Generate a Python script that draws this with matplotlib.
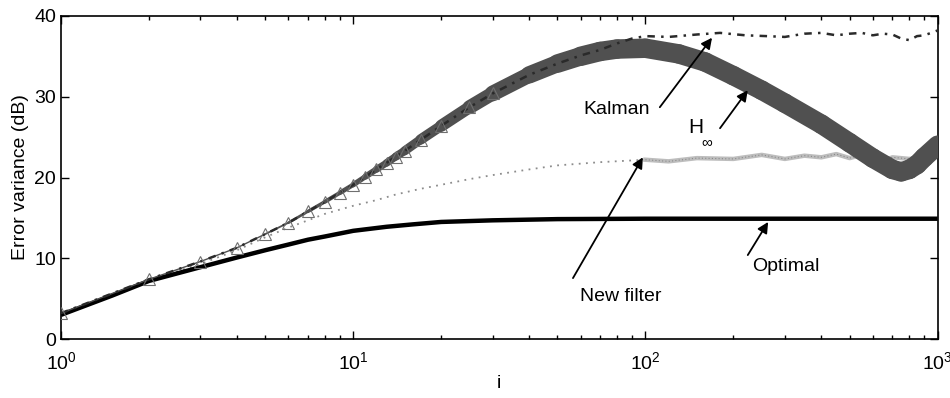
import numpy as np
import matplotlib
matplotlib.use('Agg')
import matplotlib.pyplot as plt
from matplotlib.collections import LineCollection

plt.rcParams['font.family'] = ['Liberation Sans', 'DejaVu Sans']
plt.rcParams['mathtext.default'] = 'regular'

# H-infinity filter (grey triangles -> dense band)
hinf_i = [1, 2, 3, 4, 5, 6, 7, 8, 9, 10, 11, 12, 13, 14, 15, 17, 20, 25, 30, 40, 50, 60, 70, 80,
          100, 130, 160, 200, 250, 300, 400, 500, 600, 700, 750, 800, 850, 900, 1000]
hinf_db = [3.2, 7.4, 9.6, 11.3, 13.0, 14.4, 15.8, 17.0, 18.1, 19.1, 20.1, 21.0, 21.8, 22.6, 23.3, 24.7,
           26.4, 28.7, 30.4, 32.7, 34.1, 35.0, 35.6, 35.9,
           36.0, 35.3, 34.3, 32.6, 30.8, 29.2, 26.6, 24.3, 22.4, 21.0, 20.7, 21.0, 21.6, 22.5, 24.0]

# Kalman filter (dash-dot)
kal_i = [1, 2, 3, 4, 5, 6, 7, 8, 10, 12, 15, 20, 25, 30, 40, 50, 60, 70, 80, 90, 100, 120, 150, 180,
         220, 260, 300, 350, 400, 450, 500, 550, 600, 650, 700, 750, 800, 850, 900, 950, 1000]
kal_db = [3.2, 7.4, 9.6, 11.3, 13.0, 14.4, 15.8, 17.0, 19.1, 21.0, 23.3, 26.4, 28.7, 30.4, 32.7, 34.1,
          35.1, 35.8, 36.6, 37.2, 37.5, 37.4, 37.7, 37.9, 37.6, 37.5, 37.4, 37.8, 37.9, 37.6, 37.8,
          37.9, 37.6, 37.8, 37.7, 37.2, 37.0, 37.5, 37.6, 37.9, 38.2]

# New filter (light grey)
new_i = [1, 2, 3, 4, 5, 6, 7, 8, 10, 12, 14, 17, 20, 25, 30, 40, 50, 70, 100, 120, 150, 200, 250,
         300, 350, 400, 450, 500, 550, 600, 650, 700, 800, 900, 1000]
new_db = [3.1, 7.3, 9.3, 11.0, 12.6, 13.8, 14.7, 15.5, 16.5, 17.2, 17.9, 18.6, 19.1, 19.8, 20.3, 21.0,
          21.5, 21.9, 22.2, 22.0, 22.4, 22.3, 22.8, 22.3, 22.7, 22.5, 22.9, 22.4, 22.8, 22.3, 22.0,
          22.5, 22.3, 22.6, 22.8]

# Optimal (thick black)
opt_i = [1, 1.5, 2, 3, 4, 5, 6, 7, 8, 10, 13, 16, 20, 30, 50, 100, 1000]
opt_db = [3.0, 5.4, 7.2, 8.9, 10.1, 11.0, 11.7, 12.3, 12.7, 13.4, 13.9, 14.2, 14.5, 14.7, 14.85, 14.9, 14.9]

fig = plt.figure(figsize=(9.5, 3.98), dpi=100)
ax = fig.add_axes([0.0642, 0.148, 0.9228, 0.812])
ax.set_xscale('log')

# optimal
ax.plot(opt_i, opt_db, color='black', lw=3.2, solid_capstyle='butt', zorder=3)

# new filter: dotted early, wavy light band later
ni = np.array(new_i, dtype=float)
nd = np.array(new_db)
early = ni <= 100
late = ni >= 100
ax.plot(ni[early], nd[early], color='#8c8c8c', lw=1.3, ls=(0, (1, 3)), zorder=2)
ax.plot(ni[late], nd[late], color='#bdbdbd', lw=3.2, zorder=2)
ax.plot(ni[late], nd[late], color='#8a8a8a', lw=0.8, ls=(0, (1, 2)), zorder=2)

# H-infinity band: width grows as the markers crowd together
hx = np.array(hinf_i, dtype=float)
hy = np.array(hinf_db)
segs = [[(hx[k], hy[k]), (hx[k + 1], hy[k + 1])] for k in range(len(hx) - 1)]
mid = (np.log10(hx[:-1]) + np.log10(hx[1:])) / 2
widths = np.interp(mid, [0.7, 1.0, 1.5, 1.8], [1.0, 3.5, 11.0, 14.0])
band = LineCollection(segs, linewidths=widths, colors='#505050', capstyle='round',
                      joinstyle='round', zorder=4)
ax.add_collection(band)
ax.plot(hx, hy, ls='none', marker='^', ms=8, mfc='none', mec='#6f6f6f', mew=0.8,
        markevery=list(range(0, 19)), zorder=5)

# Kalman
ax.plot(kal_i, kal_db, color='#2a2a2a', lw=1.8, ls=(0, (3, 2.5, 1, 2.5)), zorder=4.5)

ax.set_xlim(1, 1000)
ax.set_ylim(0, 40)
ax.set_yticks([0, 10, 20, 30, 40])
ax.tick_params(which='both', direction='in', top=True, right=True, labelsize=14)
ax.tick_params(axis='x', which='major', pad=9)
ax.tick_params(which='major', length=6, width=1)
ax.tick_params(which='minor', length=3, width=1)
for s in ax.spines.values():
    s.set_linewidth(1.2)
ax.set_xlabel('i', fontsize=14, labelpad=1)
ax.set_ylabel('Error variance (dB)', fontsize=14, labelpad=4)

arrow = dict(arrowstyle='-|>', color='black', lw=1.3, mutation_scale=16, shrinkA=0, shrinkB=0)
ax.annotate('', xy=(169, 37.3), xytext=(112, 28.7), arrowprops=arrow, zorder=6)
ax.text(80, 28.4, 'Kalman', fontsize=14, ha='center', va='center')
ax.annotate('', xy=(224, 30.8), xytext=(180, 26.1), arrowprops=arrow, zorder=6)
ax.text(140, 25.5, 'H', fontsize=15, ha='left', va='baseline')
ax.text(155, 23.9, '\u221e', fontsize=11, ha='left', va='baseline')
ax.annotate('', xy=(98, 22.5), xytext=(56.5, 7.55), arrowprops=arrow, zorder=6)
ax.text(82.5, 5.3, 'New filter', fontsize=14, ha='center', va='center')
ax.annotate('', xy=(263, 14.5), xytext=(224, 10.4), arrowprops=arrow, zorder=6)
ax.text(303, 9.0, 'Optimal', fontsize=14, ha='center', va='center')

fig.savefig('out.png', dpi=100)
